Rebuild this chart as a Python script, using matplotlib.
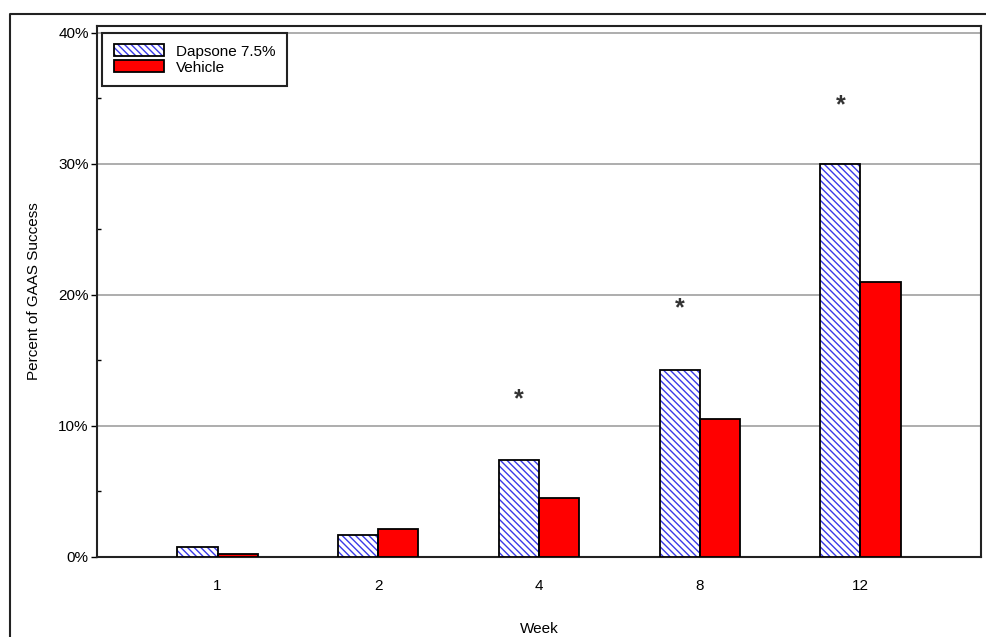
import numpy as np
import matplotlib
matplotlib.use("Agg")
import matplotlib.pyplot as plt
from matplotlib.patches import Patch
from matplotlib.lines import Line2D
from matplotlib.legend_handler import HandlerTuple
from matplotlib.ticker import MultipleLocator, FuncFormatter

# ------------------------------
# Data
# ------------------------------
weeks = ["1", "2", "4", "8", "12"]
dapsone = [0.8, 1.7, 7.4, 14.25, 30.0]
vehicle = [0.25, 2.1, 4.5, 10.5, 21.0]
# significance markers over the Dapsone bars
star_weeks = [2, 3, 4]
star_y = [12.05, 18.95, 34.45]

plt.rcParams['font.family'] = ['Liberation Sans', 'DejaVu Sans']
plt.rcParams['hatch.linewidth'] = 1.0

fig = plt.figure(figsize=(9.87, 6.37), dpi=100)
ax = fig.add_axes([97 / 987, 80 / 637, 884 / 987, 531 / 637])

x = np.arange(len(weeks))
w = 0.25
hatch = "\\" * 5

# hatched Dapsone bars: blue hatch, black outline drawn on top
ax.bar(x - w / 2, dapsone, w, color="white", edgecolor="#3a3ae8",
       hatch=hatch, linewidth=0, zorder=3)
ax.bar(x - w / 2, dapsone, w, fill=False, edgecolor="black",
       linewidth=1.3, zorder=4)
ax.bar(x + w / 2, vehicle, w, color="#ff0000", edgecolor="black",
       linewidth=1.3, zorder=3)

for i, yv in zip(star_weeks, star_y):
    ax.text(x[i] - w / 2, yv, "*", ha="center", va="center", fontsize=18,
            fontweight="bold", color="#333333", zorder=5)

ax.set_xlim(-0.75, 4.75)
ax.set_ylim(0, 40.5)
ax.set_xticks(x)
ax.set_xticklabels(weeks, fontsize=11)
ax.tick_params(axis="x", length=0, pad=16)

ax.yaxis.set_major_locator(MultipleLocator(10))
ax.yaxis.set_minor_locator(MultipleLocator(5))
ax.yaxis.set_major_formatter(FuncFormatter(lambda v, p: f"{v:.0f}%"))
ax.tick_params(axis="y", which="major", direction="out", length=4,
               width=1, labelsize=11, pad=2)
ax.tick_params(axis="y", which="minor", direction="in", length=3, width=1)

ax.grid(axis="y", color="#a0a0a0", linewidth=1.2, zorder=0)
ax.set_axisbelow(True)
for s in ax.spines.values():
    s.set_linewidth(1.5)
    s.set_color("#222222")

ax.set_xlabel("Week", fontsize=11, labelpad=21)
ax.set_ylabel("Percent of GAAS Success", fontsize=11, labelpad=12)

# legend
h_dap = (Patch(facecolor="white", edgecolor="#3a3ae8", hatch=hatch, linewidth=0),
         Patch(fill=False, edgecolor="black", linewidth=1.3))
h_veh = Patch(facecolor="#ff0000", edgecolor="black", linewidth=1.3)
leg = ax.legend([h_dap, h_veh], ["Dapsone 7.5%", "Vehicle"],
                handler_map={tuple: HandlerTuple(ndivide=1, pad=0)},
                loc="upper left", bbox_to_anchor=(0.006, 0.987),
                fontsize=11, fancybox=False, framealpha=1,
                edgecolor="#222222", handlelength=3.3, handleheight=0.8,
                handletextpad=0.8, labelspacing=0.12, borderpad=0.75,
                borderaxespad=0)
leg.get_frame().set_linewidth(1.5)

# outer frame around the figure
fig.add_artist(Line2D([10 / 987, 10 / 987, 1.0], [0.0, 1 - 14 / 637, 1 - 14 / 637],
                      transform=fig.transFigure, color="#222222", linewidth=1.5))

fig.savefig("out.png", dpi=100)
